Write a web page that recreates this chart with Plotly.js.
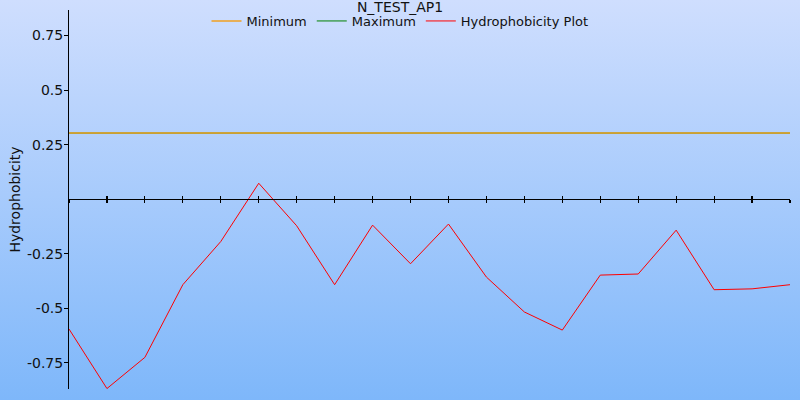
<!DOCTYPE html>
<html>
<head>
<meta charset="utf-8">
<script src="https://cdn.plot.ly/plotly-3.0.1.min.js"></script>
<style>
html,body{margin:0;padding:0;}
#chart{width:800px;height:400px;background:linear-gradient(to bottom,#cfdefe 0%,#7eb7fa 100%);}
</style>
</head>
<body>
<div id="chart"></div>
<script>
// Data
const positions = [0,1,2,3,4,5,6,7,8,9,10,11,12,13,14,15,16,17,18,19];
const hydrophobicity = [-0.595,-0.868,-0.725,-0.392,-0.194,0.073,-0.122,-0.392,-0.119,-0.296,
                        -0.114,-0.357,-0.517,-0.600,-0.348,-0.343,-0.142,-0.415,-0.411,-0.392];
const minimumValue = 0.303;
const maximumValue = 0.303;
const yTickVals = [-0.75,-0.5,-0.25,0.25,0.5,0.75];
const yTickText = ['-0.75','-0.5','-0.25','0.25','0.5','0.75'];
const chartTitle = 'N_TEST_AP1';
const yTitle = 'Hydrophobicity';

const xEnds = [positions[0], positions[positions.length-1]];
const yMin = -0.87, yMax = 0.867;
const zeroPos = (0 - yMin) / (yMax - yMin);
const font = 'DejaVu Sans, Verdana, sans-serif';

const traces = [
  {x: xEnds, y: [maximumValue, maximumValue], mode: 'lines', name: 'Maximum',
   line: {color: '#008000', width: 1}, legendrank: 2},
  {x: xEnds, y: [minimumValue, minimumValue], mode: 'lines', name: 'Minimum',
   line: {color: '#f0a020', width: 1.4}, legendrank: 1},
  {x: positions, y: hydrophobicity, mode: 'lines', name: 'Hydrophobicity Plot',
   line: {color: '#ff0000', width: 1}, legendrank: 3}
];

const layout = {
  width: 800, height: 400,
  paper_bgcolor: 'rgba(0,0,0,0)', plot_bgcolor: 'rgba(0,0,0,0)',
  margin: {l: 69, r: 10, t: 10, b: 11, pad: 0, autoexpand: false},
  font: {family: font, size: 13, color: '#111'},
  title: {text: chartTitle, x: 0.5, xref: 'container', xanchor: 'center',
          y: 1 - 2/400, yref: 'container', yanchor: 'top', pad: {t: 0, b: 0},
          font: {family: font, size: 14, color: '#111'}},
  showlegend: true,
  legend: {orientation: 'h', x: 0.5, xref: 'container', xanchor: 'center',
           y: 1 - 6/400, yref: 'container', yanchor: 'top',
           bgcolor: 'rgba(0,0,0,0)', font: {family: font, size: 13, color: '#111'},
           itemwidth: 30, tracegroupgap: 0},
  xaxis: {range: [0, 19], anchor: 'free', position: zeroPos,
          showline: true, linecolor: '#000', linewidth: 1,
          ticks: 'inside', ticklen: 3, tickwidth: 1.2, tickcolor: '#000', dtick: 1, tick0: 0,
          showticklabels: false, showgrid: false, zeroline: false},
  xaxis2: {range: [0, 19], overlaying: 'x', anchor: 'free', position: zeroPos, side: 'bottom',
          showline: false, ticks: 'outside', ticklen: 3, tickwidth: 1.2, tickcolor: '#000',
          dtick: 1, tick0: 0, showticklabels: false, showgrid: false, zeroline: false},
  yaxis: {range: [yMin, yMax], showline: true, linecolor: '#000', linewidth: 1,
          ticks: 'outside', ticklen: 4, tickwidth: 1, tickcolor: '#000',
          tickvals: yTickVals, ticktext: yTickText, ticklabelstandoff: -2,
          tickfont: {family: font, size: 14, color: '#111'},
          showgrid: false, zeroline: false,
          title: {text: yTitle, standoff: 3, font: {family: font, size: 14, color: '#111'}}}
};

// dummy trace to show the second x axis ticks
traces.push({x: [], y: [], xaxis: 'x2', showlegend: false, hoverinfo: 'skip'});

Plotly.newPlot('chart', traces, layout, {displayModeBar: false, staticPlot: true});
</script>
</body>
</html>
